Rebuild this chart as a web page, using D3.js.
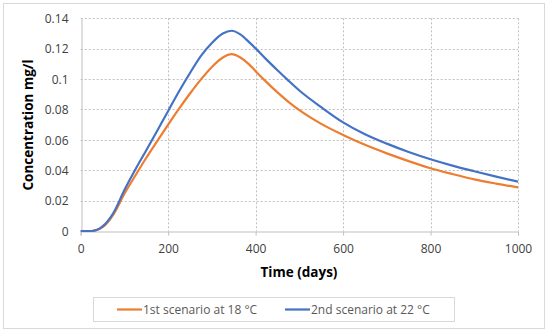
<!DOCTYPE html>
<html>
<head>
<meta charset="utf-8">
<script src="https://cdn.jsdelivr.net/npm/d3@7"></script>
<style>
  body { margin: 0; background: #fff; }
  text { font-family: "Open Sans", "Noto Sans", sans-serif; fill: #404040; }
</style>
</head>
<body>
<svg width="550" height="333"></svg>
<script>
// Data
const days = [0, 25, 50, 75, 100, 125, 150, 175, 200, 225, 250, 275, 300, 325, 345, 365, 385, 400, 425, 450, 475, 500, 550, 600, 650, 700, 750, 800, 850, 900, 950, 1000];
const conc18 = [0, 0, 0.0025, 0.011, 0.0245, 0.0365, 0.0482, 0.0592, 0.0700, 0.0805, 0.0905, 0.0998, 0.1080, 0.1142, 0.1164, 0.1142, 0.1097, 0.1052, 0.0980, 0.0912, 0.0850, 0.0795, 0.0705, 0.0632, 0.0567, 0.0511, 0.046, 0.0413, 0.0375, 0.034, 0.0312, 0.0287];
const conc22 = [0, 0, 0.003, 0.012, 0.027, 0.0405, 0.0532, 0.066, 0.079, 0.092, 0.104, 0.1153, 0.1238, 0.1300, 0.1318, 0.1294, 0.1243, 0.1202, 0.1128, 0.1058, 0.0990, 0.0925, 0.0815, 0.0715, 0.0637, 0.0575, 0.052, 0.0472, 0.043, 0.0393, 0.0358, 0.0325];

const xTicks = [0, 200, 400, 600, 800, 1000];
const yTicks = [0, 0.02, 0.04, 0.06, 0.08, 0.1, 0.12, 0.14];

const seriesNames = ["1st scenario at 18 °C", "2nd scenario at 22 °C"];
const seriesColors = ["#ED7D31", "#4472C4"];

const svg = d3.select("svg");

// outer border
svg.append("rect")
    .attr("x", 3.5).attr("y", 3.5)
    .attr("width", 541).attr("height", 325)
    .attr("fill", "none").attr("stroke", "#d9d9d9");

const plot = {left: 80.7, right: 518, top: 18.3, bottom: 231};

const x = d3.scaleLinear().domain([0, 1000]).range([plot.left, plot.right]);
const y = d3.scaleLinear().domain([0, 0.14]).range([plot.bottom, plot.top]);

// gridlines
svg.append("g").selectAll("line")
    .data(yTicks.slice(1))
    .enter().append("line")
    .attr("x1", plot.left).attr("x2", plot.right)
    .attr("y1", d => Math.round(y(d)) + 0.5).attr("y2", d => Math.round(y(d)) + 0.5)
    .attr("stroke", "#bfbfbf").attr("stroke-dasharray", "2,2");

svg.append("g").selectAll("line")
    .data(xTicks.slice(1))
    .enter().append("line")
    .attr("x1", d => Math.round(x(d)) + 0.5).attr("x2", d => Math.round(x(d)) + 0.5)
    .attr("y1", plot.top).attr("y2", plot.bottom)
    .attr("stroke", "#bfbfbf").attr("stroke-dasharray", "2,2");

// axes
const xAxis = svg.append("g")
    .attr("transform", "translate(0," + (Math.round(plot.bottom) + 0.5) + ")")
    .call(d3.axisBottom(x).tickValues(xTicks).tickSize(4).tickPadding(9).tickFormat(d3.format("d")));
const yAxis = svg.append("g")
    .attr("transform", "translate(" + (Math.round(plot.left) + 0.5) + ",0)")
    .call(d3.axisLeft(y).tickValues(yTicks).tickSize(0).tickPadding(13).tickFormat(d => d === 0 ? "0" : String(+d.toFixed(2))));

[xAxis, yAxis].forEach(a => {
    a.select(".domain").attr("stroke", "#bfbfbf");
    a.selectAll(".tick line").attr("stroke", "#bfbfbf");
    a.selectAll("text").attr("font-size", 12).attr("fill", "#595959")
        .attr("font-family", "'Open Sans', sans-serif");
});
yAxis.selectAll("text").attr("dy", "0.35em");

// lines
const line = d3.line()
    .x(d => x(d[0]))
    .y(d => y(d[1]))
    .curve(d3.curveMonotoneX);

const series = [
    d3.zip(days, conc18),
    d3.zip(days, conc22)
];

series.forEach((s, i) => {
    svg.append("path")
        .datum(s)
        .attr("d", line)
        .attr("fill", "none")
        .attr("stroke", seriesColors[i])
        .attr("stroke-width", 2.2)
        .attr("stroke-linejoin", "round");
});

// axis titles
svg.append("text")
    .attr("x", 299).attr("y", 277)
    .attr("text-anchor", "middle")
    .attr("font-size", 13.5).attr("font-weight", "bold")
    .style("fill", "#000")
    .text("Time (days)");

svg.append("text")
    .attr("transform", "translate(33,125) rotate(-90)")
    .attr("text-anchor", "middle")
    .attr("font-size", 13.5).attr("font-weight", "bold")
    .style("fill", "#000")
    .text("Concentration mg/l");

// legend
svg.append("rect")
    .attr("x", 93.5).attr("y", 297.5)
    .attr("width", 361).attr("height", 24)
    .attr("fill", "#fff").attr("stroke", "#d9d9d9");

const legendX = [117, 285];
seriesNames.forEach((name, i) => {
    svg.append("line")
        .attr("x1", legendX[i]).attr("x2", legendX[i] + 25)
        .attr("y1", 309.5).attr("y2", 309.5)
        .attr("stroke", seriesColors[i]).attr("stroke-width", 2.2);
    svg.append("text")
        .attr("x", legendX[i] + 26).attr("y", 309.5)
        .attr("dy", "0.35em")
        .attr("font-size", 12)
        .style("fill", "#595959")
        .text(name);
});
</script>
</body>
</html>
